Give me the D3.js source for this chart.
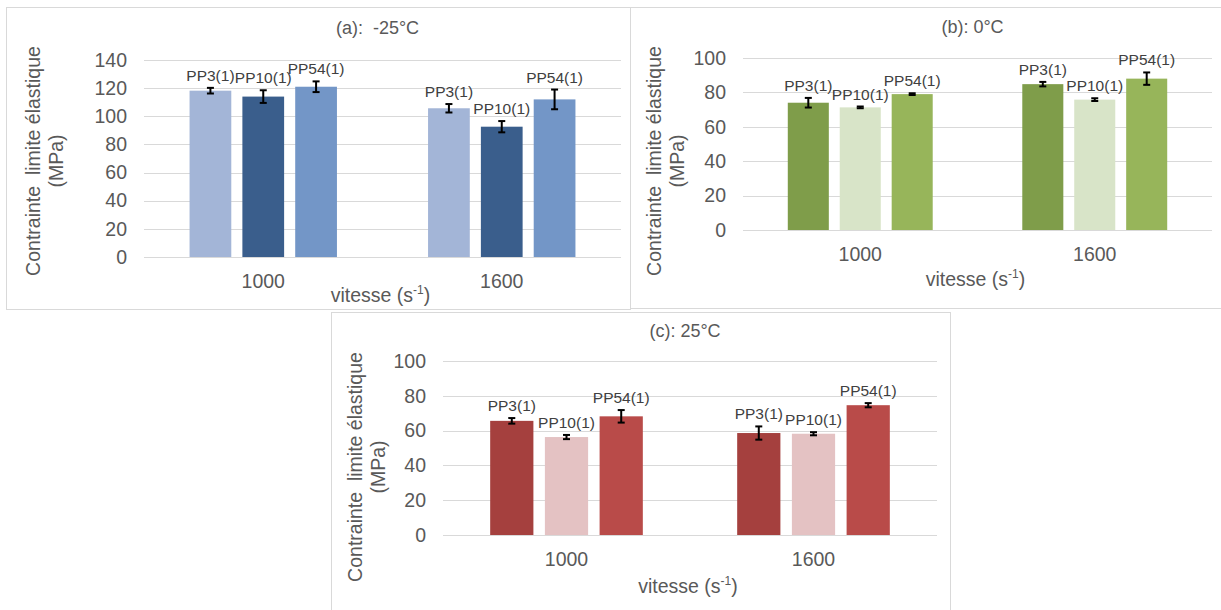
<!DOCTYPE html>
<html>
<head>
<meta charset="utf-8">
<script src="https://cdn.jsdelivr.net/npm/d3@7"></script>
<style>
  body { margin: 0; background: #fff; }
  text { font-family: "Liberation Sans", Arial, sans-serif; }
</style>
</head>
<body>
<svg id="chart" width="1221" height="610"></svg>
<script>
const categories = ["1000", "1600"];
const seriesNames = ["PP3(1)", "PP10(1)", "PP54(1)"];
const titles = ["(a):  -25°C", "(b): 0°C", "(c): 25°C"];
const ticksA = [0, 20, 40, 60, 80, 100, 120, 140];
const ticksBC = [0, 20, 40, 60, 80, 100];

// values per series, one entry per category
const valuesA = [[118.2, 105.7], [114.0, 92.6], [121.0, 112.0]];
const errorsA = [[2.0, 3.0], [4.5, 4.0], [3.8, 7.0]];
const valuesB = [[74.0, 84.8], [71.3, 75.8], [79.0, 88.0]];
const errorsB = [[2.8, 1.3], [0.5, 0.8], [0.5, 3.6]];
const valuesC = [[65.6, 58.6], [56.3, 58.2], [68.2, 74.6]];
const errorsC = [[1.6, 3.8], [1.2, 0.9], [3.6, 1.2]];

const colorsA = ["#a3b5d7", "#3a5e8c", "#7396c7"];
const colorsB = ["#7f9d4a", "#d8e4c8", "#97b55a"];
const colorsC = ["#a5403e", "#e4c2c3", "#b94b49"];

const svg = d3.select("#chart");

// layout of the three boxes
const panels = [
    {title: titles[0], ticks: ticksA, vals: valuesA, errs: errorsA, colors: colorsA,
     frame: [6, 7, 624, 302], plot: [144, 60, 621, 257],
     titleY: 28, xTitleY: 295, yTitleX: 45, yTitleY: 161},
    {title: titles[1], ticks: ticksBC, vals: valuesB, errs: errorsB, colors: colorsB,
     frame: [630, 7, 600, 301], plot: [743, 58, 1212, 230],
     titleY: 27, xTitleY: 279, yTitleX: 666, yTitleY: 161},
    {title: titles[2], ticks: ticksBC, vals: valuesC, errs: errorsC, colors: colorsC,
     frame: [331, 312, 619, 310], plot: [443, 361, 937, 535],
     titleY: 331, xTitleY: 586, yTitleX: 367, yTitleY: 467}
];

panels.forEach(function(p) {
    let g = svg.append("g");
    let [left, top, right, bottom] = p.plot;

    g.append("rect")
        .attr("x", p.frame[0] + 0.5).attr("y", p.frame[1] + 0.5)
        .attr("width", p.frame[2]).attr("height", p.frame[3])
        .attr("fill", "#fff").attr("stroke", "#d9d9d9");

    let y = d3.scaleLinear().domain([0, d3.max(p.ticks)]).range([bottom, top]);
    let x0 = d3.scaleBand().domain(categories).range([left, right])
        .paddingInner(0.382).paddingOuter(0.191);
    let x1 = d3.scaleBand().domain(seriesNames).range([0, x0.bandwidth()])
        .paddingInner(0.21).paddingOuter(0);

    // gridlines + tick labels
    let yAxis = d3.axisLeft(y).tickValues(p.ticks).tickSize(-(right - left)).tickPadding(17);
    let ax = g.append("g").attr("transform", `translate(${left},0)`).call(yAxis);
    ax.select(".domain").remove();
    ax.selectAll(".tick line").attr("stroke", "#d9d9d9").attr("shape-rendering", "crispEdges");
    ax.selectAll(".tick text")
        .attr("font-size", 19.5).attr("fill", "#595959")
        .style("font-family", "Liberation Sans, Arial, sans-serif");

    // category labels
    let xAxis = d3.axisBottom(x0).tickSize(0).tickPadding(24);
    let bx = g.append("g").attr("transform", `translate(0,${bottom})`).call(xAxis);
    bx.select(".domain").remove();
    bx.selectAll(".tick text")
        .attr("font-size", 19.5).attr("fill", "#595959").attr("dy", "0.35em")
        .style("font-family", "Liberation Sans, Arial, sans-serif");

    // bars
    let items = [];
    p.vals.forEach(function(row, s) {
        row.forEach(function(v, c) {
            items.push({s: s, c: c, v: v, e: p.errs[s][c]});
        });
    });

    let bars = g.selectAll(".bar")
        .data(items)
        .enter()
        .append("g")
        .attr("class", "bar")
        .attr("transform", d => `translate(${x0(categories[d.c]) + x1(seriesNames[d.s])},0)`);

    bars.append("rect")
        .attr("x", 0)
        .attr("y", d => y(d.v))
        .attr("width", x1.bandwidth())
        .attr("height", d => y(0) - y(d.v))
        .attr("fill", d => p.colors[d.s]);

    // error bars
    let cx = x1.bandwidth() / 2;
    bars.append("line")
        .attr("x1", cx).attr("x2", cx)
        .attr("y1", d => y(d.v + d.e)).attr("y2", d => y(d.v - d.e))
        .attr("stroke", "#000").attr("stroke-width", 2);
    bars.append("line")
        .attr("x1", cx - 3.5).attr("x2", cx + 3.5)
        .attr("y1", d => y(d.v + d.e)).attr("y2", d => y(d.v + d.e))
        .attr("stroke", "#000").attr("stroke-width", 2);
    bars.append("line")
        .attr("x1", cx - 3.5).attr("x2", cx + 3.5)
        .attr("y1", d => y(d.v - d.e)).attr("y2", d => y(d.v - d.e))
        .attr("stroke", "#000").attr("stroke-width", 2);

    // data labels
    bars.append("text")
        .attr("x", cx)
        .attr("y", d => y(d.v + d.e) - 7)
        .attr("text-anchor", "middle")
        .attr("font-size", 15.5)
        .attr("fill", "#404040")
        .text(d => seriesNames[d.s]);

    // title
    g.append("text")
        .attr("x", (left + right) / 2 - 5).attr("y", p.titleY)
        .attr("dy", "0.35em")
        .attr("text-anchor", "middle")
        .attr("font-size", 18).attr("fill", "#595959")
        .style("white-space", "pre")
        .text(p.title);

    // x axis title
    let xt = g.append("text")
        .attr("x", (left + right) / 2 - 2).attr("y", p.xTitleY)
        .attr("dy", "0.35em")
        .attr("text-anchor", "middle")
        .attr("font-size", 19.5).attr("fill", "#595959");
    xt.append("tspan").text("vitesse (s");
    xt.append("tspan").attr("dy", -8).attr("font-size", 12).text("-1");
    xt.append("tspan").attr("dy", 8).text(")");

    // y axis title
    let yt = g.append("text")
        .attr("transform", `translate(${p.yTitleX},${p.yTitleY}) rotate(-90)`)
        .attr("text-anchor", "middle")
        .attr("font-size", 19.5).attr("fill", "#595959")
        .style("white-space", "pre");
    yt.append("tspan").attr("x", 0).attr("y", -11.5).attr("dy", "0.35em").text("Contrainte  limite élastique");
    yt.append("tspan").attr("x", 0).attr("y", 11.5).attr("dy", "0.35em").text("(MPa)");
});
</script>
</body>
</html>
